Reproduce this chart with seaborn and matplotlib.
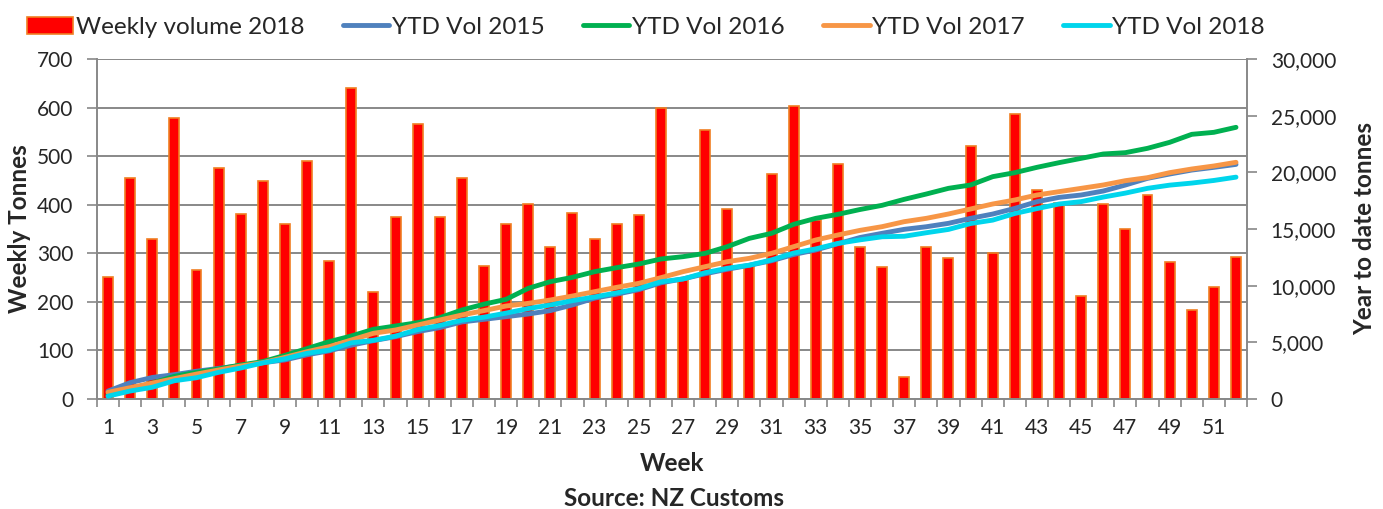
import matplotlib
matplotlib.use("Agg")
import matplotlib.pyplot as plt
import pandas as pd
import seaborn as sns
from matplotlib.ticker import FixedLocator, StrMethodFormatter

weeks = list(range(1, 53))

weekly_2018 = [
    251, 454, 329, 578, 266, 476, 381, 449, 360, 489,
    284, 640, 221, 374, 566, 374, 454, 274, 360, 401,
    313, 383, 329, 360, 379, 600, 245, 554, 392, 275,
    463, 604, 368, 484, 312, 271, 46, 312, 291, 521,
    301, 587, 430, 403, 212, 401, 351, 419, 282, 183,
    231, 292,
]

ytd_2015 = [
    700, 1440, 1900, 2150, 2450, 2700, 2950, 3200, 3450, 3900,
    4250, 4750, 5150, 5500, 5950, 6300, 6800, 7030, 7265, 7500,
    7800, 8300, 8900, 9250, 9650, 10250, 10600, 11050, 11450, 11800,
    12200, 12750, 13150, 13700, 14250, 14620, 14970, 15200, 15500, 15940,
    16320, 16820, 17410, 17790, 18000, 18350, 18880, 19470, 19850, 20200,
    20440, 20700,
]

ytd_2016 = [
    400, 900, 1400, 2000, 2350, 2650, 3000, 3300, 3850, 4450,
    5057, 5559, 6150, 6441, 6735, 7176, 7853, 8370, 8794, 9765,
    10353, 10735, 11235, 11588, 11912, 12353, 12559, 12853, 13441, 14176,
    14618, 15412, 15941, 16294, 16720, 17090, 17618, 18088, 18588, 18883,
    19618, 19971, 20441, 20853, 21235, 21618, 21735, 22118, 22647, 23353,
    23530, 23971,
]

ytd_2017 = [
    590, 1000, 1400, 1800, 2200, 2560, 2912, 3206, 3676, 4174,
    4615, 5206, 5797, 6088, 6530, 6971, 7412, 7800, 8206, 8441,
    8735, 9088, 9471, 9853, 10206, 10706, 11235, 11676, 12118, 12412,
    12853, 13441, 14030, 14471, 14880, 15206, 15647, 15941, 16324, 16765,
    17206, 17559, 18000, 18294, 18588, 18883, 19265, 19530, 19971, 20294,
    20559, 20883,
]

ytd_2018 = [
    251, 705, 1034, 1612, 1878, 2354, 2735, 3184, 3544, 4033,
    4317, 4957, 5178, 5552, 6118, 6492, 6946, 7220, 7580, 7981,
    8294, 8677, 9006, 9366, 9745, 10345, 10590, 11144, 11536, 11811,
    12274, 12878, 13246, 13730, 14042, 14313, 14359, 14671, 14962, 15483,
    15784, 16371, 16801, 17204, 17416, 17817, 18168, 18587, 18869, 19052,
    19283, 19575,
]

series_names = ["YTD Vol 2015", "YTD Vol 2016", "YTD Vol 2017", "YTD Vol 2018"]
series_colors = ["#4F81BD", "#00B050", "#F79646", "#00D5EC"]

GRID = "#888888"

sns.set_style("white")
plt.rcParams["font.family"] = ["Lato", "DejaVu Sans"]

df = pd.DataFrame({
    "week": weeks,
    "weekly": weekly_2018,
    "YTD Vol 2015": ytd_2015,
    "YTD Vol 2016": ytd_2016,
    "YTD Vol 2017": ytd_2017,
    "YTD Vol 2018": ytd_2018,
})

fig = plt.figure(figsize=(13.83, 5.09), dpi=100)
ax = fig.add_axes([0.0701, 0.2161, 0.8316, 0.668])

sns.barplot(data=df, x="week", y="weekly", native_scale=True, width=0.45,
            color="#FF0000", saturation=1, edgecolor="#F07F22", linewidth=1.2,
            label="Weekly volume 2018", ax=ax)

ax2 = ax.twinx()
for name, col in zip(series_names, series_colors):
    sns.lineplot(data=df, x="week", y=name, color=col, linewidth=3.5,
                 solid_capstyle="round", label=name, ax=ax2)

# axes limits / ticks
ax.set_xlim(0.5, 52.5)
ax.set_ylim(0, 700)
ax.set_yticks(range(0, 701, 100))
ax2.set_ylim(0, 30000)
ax2.set_yticks(range(0, 30001, 5000))
ax2.yaxis.set_major_formatter(StrMethodFormatter("{x:,.0f}"))

ax.xaxis.set_major_locator(FixedLocator(weeks[::2]))
ax.xaxis.set_minor_locator(FixedLocator([w - 0.5 for w in weeks] + [52.5]))
ax.tick_params(axis="x", which="major", bottom=True, length=0, labelsize=15, pad=14)
ax.tick_params(axis="x", which="minor", bottom=True, length=6, width=1.2, color=GRID)
ax.tick_params(axis="y", left=True, length=7, width=1.2, color=GRID, labelsize=15, pad=10)
ax2.tick_params(axis="y", right=True, length=7, width=1.2, color=GRID, labelsize=15, pad=10)

ax.set_axisbelow(True)
ax.yaxis.grid(True, color=GRID, linewidth=1.4)
ax.xaxis.grid(False)

for s in ["top", "right"]:
    ax.spines[s].set_visible(False)
for s in ["top", "left", "bottom"]:
    ax2.spines[s].set_visible(False)
for s in ["left", "bottom"]:
    ax.spines[s].set_color(GRID)
    ax.spines[s].set_linewidth(1.4)
ax2.spines["right"].set_color(GRID)
ax2.spines["right"].set_linewidth(1.4)

ax.set_xlabel("Week", fontsize=17.5, fontweight="bold", labelpad=10)
ax.set_ylabel("Weekly Tonnes", fontsize=17.5, fontweight="bold", labelpad=4)
ax2.set_ylabel("Year to date tonnes", fontsize=17.5, fontweight="bold", labelpad=12)
fig.text(0.487, 0.02, "Source: NZ Customs", ha="center", va="center",
         fontsize=17.5, fontweight="bold")

# one legend across the top
h1, l1 = ax.get_legend_handles_labels()
h2, l2 = ax2.get_legend_handles_labels()
for a in (ax, ax2):
    if a.get_legend() is not None:
        a.get_legend().remove()
fig.legend(h1 + h2, l1 + l2, loc="upper center", bbox_to_anchor=(0.467, 1.01),
           ncol=5, frameon=False, fontsize=17.5, handlelength=1.9,
           handletextpad=0.1, columnspacing=1.6)

fig.savefig("out.png", dpi=100)
